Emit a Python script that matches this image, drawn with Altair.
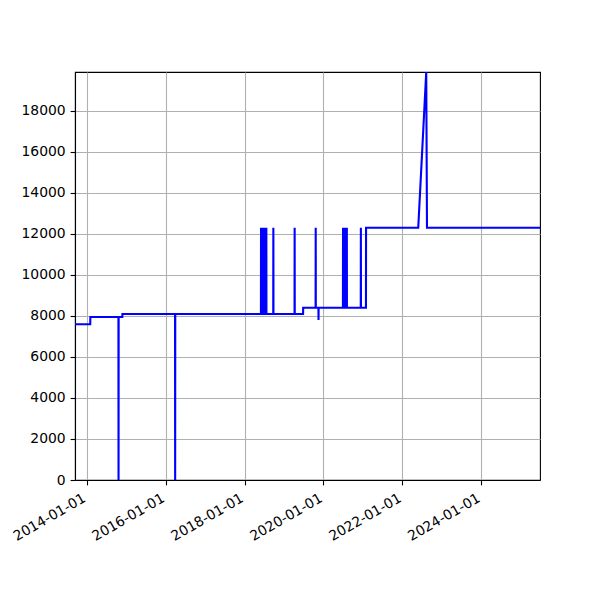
import altair as alt
import pandas as pd

# vertices of the drawn line
dates = [
    "2013-09-15", "2014-02-03", "2014-02-04",
    "2014-10-22", "2014-10-23", "2014-10-24",
    "2014-11-27", "2014-11-28",
    "2016-03-29", "2016-03-30", "2016-03-31",
    "2018-06-02", "2018-06-03", "2018-06-04",
    "2018-06-14", "2018-06-15", "2018-06-16",
    "2018-06-27", "2018-06-28", "2018-06-29",
    "2018-07-09", "2018-07-10", "2018-07-11",
    "2018-07-21", "2018-07-22", "2018-07-23",
    "2018-09-24", "2018-09-25", "2018-09-26",
    "2019-04-09", "2019-04-10", "2019-04-11",
    "2019-06-27", "2019-06-28",
    "2019-10-21", "2019-10-22", "2019-10-23",
    "2019-11-16", "2019-11-17", "2019-11-18",
    "2020-06-30", "2020-07-01", "2020-07-02",
    "2020-07-11", "2020-07-12", "2020-07-13",
    "2020-07-23", "2020-07-24", "2020-07-25",
    "2020-08-04", "2020-08-05", "2020-08-06",
    "2020-12-12", "2020-12-13", "2020-12-14",
    "2021-01-29", "2021-01-30",
    "2022-05-28", "2022-08-10", "2022-08-17",
    "2025-06-28",
]
values = [
    7600, 7600, 7950,
    7950, 0, 7950,
    7950, 8100,
    8100, 0, 8100,
    8100, 12300, 8100,
    8100, 12300, 8100,
    8100, 12300, 8100,
    8100, 12300, 8100,
    8100, 12300, 8100,
    8100, 12300, 8100,
    8100, 12300, 8100,
    8100, 8400,
    8400, 12300, 8400,
    8400, 7800, 8400,
    8400, 12300, 8400,
    8400, 12300, 8400,
    8400, 12300, 8400,
    8400, 12300, 8400,
    8400, 12300, 8400,
    8400, 12300,
    12300, 19900, 12300,
    12300,
]

tick_years = [2014, 2016, 2018, 2020, 2022, 2024]
y_ticks = [0, 2000, 4000, 6000, 8000, 10000, 12000, 14000, 16000, 18000]

df = pd.DataFrame({"date": dates, "value": values, "order": list(range(len(dates)))})

FONT = "DejaVu Sans"

chart = alt.Chart(df).mark_line(color="#0000ff", strokeWidth=2.1, clip=True).encode(
    x=alt.X(
        "date:T",
        title=None,
        scale=alt.Scale(
            type="utc",
            domain=[alt.DateTime(year=2013, month=9, date=15, utc=True),
                    alt.DateTime(year=2025, month=6, date=28, utc=True)],
            nice=False,
        ),
        axis=alt.Axis(
            values=[alt.DateTime(year=y, month=1, date=1, utc=True) for y in tick_years],
            labelExpr="utcFormat(datum.value, '%Y-%m-%d')",
            labelAngle=330,
            labelAlign="right",
            labelBaseline="top",
            labelFont=FONT,
            labelFontSize=13.9,
            labelColor="black",
            labelPadding=6,
            labelOffset=-6,
            tickSize=4.9,
            tickColor="black",
            tickWidth=1.1,
            domainColor="black",
            domainWidth=1.1,
            grid=True,
            gridColor="#b0b0b0",
            gridWidth=1.1,
            labelOverlap=False,
        ),
    ),
    y=alt.Y(
        "value:Q",
        title=None,
        scale=alt.Scale(domain=[0, 19900], nice=False, zero=True),
        axis=alt.Axis(
            values=y_ticks,
            format="d",
            labelFont=FONT,
            labelFontSize=13.9,
            labelColor="black",
            labelPadding=4.9,
            tickSize=4.9,
            tickColor="black",
            tickWidth=1.1,
            domainColor="black",
            domainWidth=1.1,
            grid=True,
            gridColor="#b0b0b0",
            gridWidth=1.1,
        ),
    ),
    order="order:Q",
).properties(
    width=465,
    height=408,
    autosize=alt.AutoSizeParams(type="none"),
    padding={"left": 67, "top": 64, "right": 52, "bottom": 104},
).configure_view(
    stroke="black",
    strokeWidth=1.1,
)

chart.save("out.html", embed_options={"renderer": "svg", "actions": False})
